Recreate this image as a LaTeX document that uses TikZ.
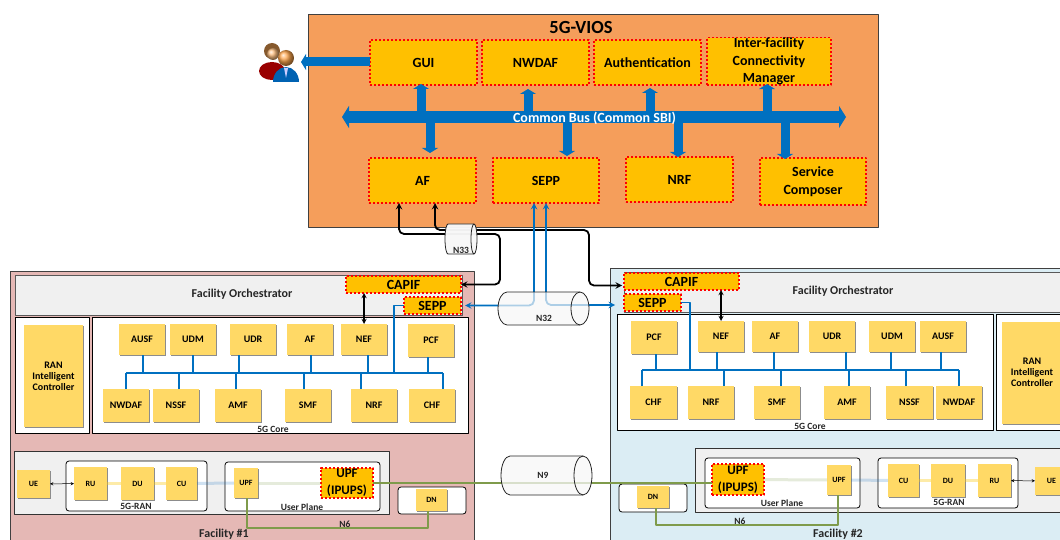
\documentclass[tikz,border=0pt]{standalone}
\usepackage{fontspec}
\setmainfont{Carlito}
\usetikzlibrary{arrows.meta,shadows}
\definecolor{viosbg}{HTML}{F59E5B}
\definecolor{fnbox}{HTML}{FFC000}
\definecolor{nfbox}{HTML}{FFD966}
\definecolor{sbiblue}{HTML}{0070C0}
\definecolor{linkgreen}{HTML}{7F9B4B}
\definecolor{facone}{HTML}{E5B8B5}
\definecolor{factwo}{HTML}{DBEDF4}
\begin{document}
\begin{tikzpicture}[x=1pt,y=-1pt,>=stealth,line join=round,
	span/.style args={#1,#2,#3,#4}{at={({(#1+#3)/2},{(#2+#4)/2})},minimum width={(#3-#1)*1pt},minimum height={(#4-#2)*1pt},inner sep=0pt,outer sep=0pt,align=center},
	panel/.style={draw=black!75,line width=0.9pt},
	whitebox/.style={draw=black,fill=white,line width=0.8pt},
	roundbox/.style={whitebox,rounded corners=3pt},
	fnnode/.style={fill=fnbox,draw=red,line width=1.2pt,dash pattern=on 2.2pt off 1.8pt,text=black,font=\fontsize{14}{17.5}\selectfont\bfseries},
	upfnode/.style={fnnode,font=\fontsize{13}{17}\selectfont\bfseries},
	nfnode/.style={fill=nfbox,drop shadow={shadow xshift=1pt,shadow yshift=-1pt,fill=black!45,opacity=1},font=\fontsize{10}{11}\selectfont\bfseries},
	smallnf/.style={nfnode,font=\fontsize{8}{9}\selectfont\bfseries},
	lbl/.style={inner sep=0pt,font=\fontsize{9.5}{11}\selectfont\bfseries,text=black!85},
	orchlbl/.style={inner sep=0pt,font=\fontsize{12}{14}\selectfont\bfseries,text=black!85},
	sbi/.style={draw=sbiblue,line width=1.8pt},
	blacklink/.style={draw=black,line width=1.8pt,rounded corners=5pt},
	bluelink/.style={sbi,rounded corners=5pt},
	n6/.style={draw=linkgreen,line width=1.8pt},
	busarrow/.style={draw=sbiblue,line width=9pt,-{Triangle[length=5pt,width=16pt]}}]
	\useasboundingbox (0,0) rectangle (1060,540);
	\clip (0,0) rectangle (1060,540);
	% 5G-VIOS
	\node[panel,fill=viosbg,span={308,14,878,227}] (vios) {};
	\node[inner sep=0pt,font=\fontsize{18.5}{20}\selectfont\bfseries] (viostitle) at (581,27) {5G-VIOS};
	\foreach \nm/\xa/\ya/\xb/\yb/\txt in {GUI/370/40/477/85/GUI,NWDAF/482/40/589/85/NWDAF,Auth/594/40/701/85/Authentication,
		Inter/707/38/831/85/{Inter-facility\\Connectivity\\Manager},AF/369/158/476/203/AF,SEPP/493/158/599/203/SEPP,
		NRF/626/157/733/202/NRF,Comp/760/158/866/205/{Service\\Composer}}
		\node[fnnode,span={\xa,\ya,\xb,\yb}] (v\nm) {\txt};
	\coordinate (busL) at (342,117);
	\coordinate (busR) at (846,117);
	% up and down from the bus
	\foreach \nm/\dx/\sh in {GUI/-2.5/-1,NWDAF/-7.5/4,Auth/2.5/3,Inter/-2/-1}
		\draw[busarrow,shorten >=\sh pt] ([xshift=\dx pt]v\nm.south |- busL) -- ([xshift=\dx pt]v\nm.south);
	\foreach \nm/\dx/\sh in {AF/7.5/5,SEPP/21/2,NRF/-1.5/0,Comp/-28/-1}
		\draw[busarrow,shorten >=\sh pt] ([xshift=\dx pt]v\nm.north |- busL) -- ([xshift=\dx pt]v\nm.north);
	\draw[draw=sbiblue,line width=12pt,{Triangle[length=7pt,width=22pt]}-{Triangle[length=7pt,width=22pt]}] (busL) -- (busR);
	\node[inner sep=0pt,text=white,font=\fontsize{14}{16}\selectfont\bfseries] (buslbl) at (594.5,118) {Common Bus (Common SBI)};
	% users
	\coordinate (users) at (301,62);
	\draw[busarrow] (vGUI.west |- users) -- (users);
	\fill[brown!70!black] (272,51) circle (8);
	\fill[red!60!black] (272,71) ellipse [x radius=13pt,y radius=9pt];
	\shade[ball color=orange!50] (273,54) circle (6);
	\fill[blue!45!cyan!70!black] (299,82) -- (273,82) arc[start angle=180,end angle=0,x radius=13pt,y radius=15pt] -- cycle;
	\fill[white!80!blue] (284,68) -- (288,68) -- (286,78) -- cycle;
	\shade[ball color=orange!70] (286,58) circle (8);
	% facility 1
	\node[panel,fill=facone,span={10,271,474,560}] (lfac) {};
	\node[panel,draw=black!65,fill=black!6,span={15,275,462,315}] (lorch) {};
	\node[orchlbl] (lorchlbl) at (242,294) {Facility Orchestrator};
	\node[whitebox,span={15,317,89,433}] (lricbox) {};
	\node[whitebox,span={92,317,468,433}] (lcore) {};
	\node[nfnode,span={24,325,83,427}] (lric) {RAN\\Intelligent\\Controller};
	\coordinate (lbusL) at (126,373);
	\coordinate (lbusR) at (443,373);
	\draw[sbi] (lbusL) -- (lbusR);
	\foreach \nm/\xa/\xb/\yb/\xv in {AUSF/119/165/355/143,UDM/170/216/355/193,UDR/230/276/355/239,AF/287/333/355/311,NEF/341/387/355/368,PCF/408/454/357/428}{
		\node[nfnode,span={\xa,324,\xb,\yb}] (l\nm) {\nm};
		\coordinate (t) at (\xv,373);
		\draw[sbi] (l\nm.south -| t) -- (t);
	}
	\foreach \nm/\xa/\xb/\xv in {NWDAF/103/149/126,NSSF/153/199/179,AMF/215/261/236,SMF/285/331/304,NRF/351/397/361,CHF/409/455/443}{
		\node[nfnode,span={\xa,389,\xb,422}] (l\nm) {\nm};
		\coordinate (t) at (\xv,373);
		\draw[sbi] (l\nm.north -| t) -- (t);
	}
	\node[lbl] (lcorelbl) at (273,429) {5G Core};
	\node[fnnode,span={346,276,461,293}] (lCAPIF) {CAPIF};
	\node[fnnode,span={404,297,461,314}] (lSEPP) {SEPP};
	\coordinate (lsbi) at (394,373);
	\draw[sbi] (lSEPP.west) -| (lsbi);
	\draw[black,line width=1.3pt,<->] (lNEF.north) -- (lCAPIF.south -| lNEF.north);
	% facility 1 lower part
	\node[draw=black!80,line width=0.8pt,fill=black!6,span={14,451,389,514}] (ledge) {};
	\node[roundbox,span={66,461,207,511}] (lran) {};
	\node[roundbox,span={225,462,380,511}] (lup) {};
	\node[roundbox,span={398,487,466,514}] (ldnbox) {};
	\foreach \nm/\xa/\ya/\xb/\yb in {UE/17/470/50/498,RU/74/467/107/500,DU/121/467/154/500,CU/166/467/197/500,UPF/234/468/258/498,DN/416/489/447/511}
		\node[smallnf,span={\xa,\ya,\xb,\yb}] (l\nm x) {\nm};
	\node[upfnode,span={321,468,373,498}] (lIPUPS) {UPF\\(IPUPS)};
	\draw[yellow!60!orange,line width=3pt,opacity=0.35] (lRUx) -- (lDUx) -- (lCUx);
	\draw[cyan!50!blue,line width=3pt,opacity=0.2] (lCUx) -- (lUPFx);
	\draw[linkgreen,line width=3pt,opacity=0.2] (lUPFx) -- (lIPUPS);
	\draw[black,line width=0.5pt,<->] (lUEx) -- (lRUx);
	\coordinate (ln6) at (345,528);
	\draw[n6] (lUPFx.south -| 247,0) |- (ln6) -| (428,511);
	\node[lbl] (ln6lbl) at (345,524) {N6};
	\node[lbl] (lranlbl) at (136,506) {5G-RAN};
	\node[lbl] (luplbl) at (302,507) {User Plane};
	\node[orchlbl] (lfaclbl) at (224,534) {Facility \#1};
	% facility 2
	\node[panel,fill=factwo,span={610,268,1075,560}] (rfac) {};
	\node[panel,draw=black!65,fill=black!6,span={624,272,1075,312}] (rorch) {};
	\node[orchlbl] (rorchlbl) at (843,291) {Facility Orchestrator};
	\node[whitebox,span={617,314,993,430}] (rcore) {};
	\node[whitebox,span={996,314,1075,430}] (rricbox) {};
	\node[nfnode,span={1002,322,1075,424}] (rric) {};
	\node[inner sep=0pt,align=center,font=\fontsize{10}{11}\selectfont\bfseries] (rrictxt) at (1032,372) {RAN\\Intelligent\\Controller};
	\coordinate (rbusL) at (642,370);
	\coordinate (rbusR) at (959,370);
	\draw[sbi] (rbusL) -- (rbusR);
	\foreach \nm/\xa/\xb/\yb/\xv in {PCF/631/677/354/656,NEF/698/744/352/717,AF/752/798/352/774,UDR/809/855/352/846,UDM/869/915/352/891,AUSF/920/966/352/941}{
		\node[nfnode,span={\xa,321,\xb,\yb}] (r\nm) {\nm};
		\coordinate (t) at (\xv,370);
		\draw[sbi] (r\nm.south -| t) -- (t);
	}
	\foreach \nm/\xa/\xb/\xv in {CHF/630/677/642,NRF/688/734/724,SMF/754/800/781,AMF/824/870/849,NSSF/886/933/906,NWDAF/936/982/959}{
		\node[nfnode,span={\xa,386,\xb,419}] (r\nm) {\nm};
		\coordinate (t) at (\xv,370);
		\draw[sbi] (r\nm.north -| t) -- (t);
	}
	\node[lbl] (rcorelbl) at (810,426) {5G Core};
	\node[fnnode,span={624,273,739,290}] (rCAPIF) {CAPIF};
	\node[fnnode,span={624,294,681,311}] (rSEPP) {SEPP};
	\coordinate (rsbi) at (690,370);
	\draw[sbi] (rSEPP.east) -| (rsbi);
	\draw[black,line width=1.3pt,<->] (rNEF.north) -- (rCAPIF.south -| rNEF.north);
	% facility 2 lower part
	\node[draw=black!80,line width=0.8pt,fill=black!6,span={695,448,1075,512}] (redge) {};
	\node[roundbox,span={705,458,860,508}] (rup) {};
	\node[roundbox,span={878,458,1018,508}] (rran) {};
	\node[roundbox,span={619,484,687,512}] (rdnbox) {};
	\foreach \nm/\xa/\ya/\xb/\yb in {UE/1035/467/1068/495,RU/978/464/1011/497,DU/931/464/965/497,CU/888/464/919/497,UPF/827/465/851/495,DN/637/486/669/508}
		\node[smallnf,span={\xa,\ya,\xb,\yb}] (r\nm x) {\nm};
	\node[upfnode,span={712,464,764,495}] (rIPUPS) {UPF\\(IPUPS)};
	\draw[yellow!60!orange,line width=3pt,opacity=0.35] (rRUx) -- (rDUx) -- (rCUx);
	\draw[cyan!50!blue,line width=3pt,opacity=0.2] (rCUx) -- (rUPFx);
	\draw[linkgreen,line width=3pt,opacity=0.2] (rUPFx) -- (rIPUPS);
	\draw[black,line width=0.5pt,<->] (rUEx) -- (rRUx);
	\coordinate (rn6) at (740,525);
	\draw[n6] (rDNx.south -| 656,0) |- (rn6) -| (838,495);
	\node[lbl] (rn6lbl) at (740,521) {N6};
	\node[lbl] (ruplbl) at (782,503) {User Plane};
	\node[lbl] (rranlbl) at (949,502) {5G-RAN};
	\node[orchlbl] (rfaclbl) at (838,534) {Facility \#2};
	% links between the boxes
	\coordinate (afone) at (500,234);
	\coordinate (aftwo) at (589,230);
	\draw[blacklink,<->] ([xshift=-23.5pt]vAF.south) |- (afone) |- (lCAPIF.east);
	\draw[blacklink,<->,shorten >=2pt] ([xshift=12.5pt]vAF.south) |- (aftwo) |- ([yshift=-4pt]rCAPIF.west);
	\draw[bluelink,<->,shorten >=4pt] ([xshift=-12pt]vSEPP.south) |- (lSEPP.east);
	\draw[bluelink,<->,shorten >=9pt] (vSEPP.south) |- ([yshift=-2.5pt]rSEPP.west);
	\draw[n6] (lIPUPS.east) -- (lIPUPS.east -| rIPUPS.west);
	% pipes
	\foreach \nm/\xa/\ya/\xb/\yb/\cw/\op/\tx/\ty in {N33/445/224/477/254/3/0.97/461/250,N32/498/292/589/325/9/0.7/544/318,N9/501/456/592/495/9/0.75/543/475}{
		\pgfmathsetmacro\ph{(\yb-\ya)/2}
		\fill[black!3,opacity=\op] (\xa+\cw,\ya) arc[start angle=90,end angle=270,x radius=\cw pt,y radius=\ph pt] -- (\xb-\cw,\yb) arc[start angle=270,end angle=450,x radius=\cw pt,y radius=\ph pt] -- cycle;
		\draw[black!85,line width=0.8pt] (\xa+\cw,\ya) arc[start angle=90,end angle=270,x radius=\cw pt,y radius=\ph pt] -- (\xb-\cw,\yb) arc[start angle=270,end angle=450,x radius=\cw pt,y radius=\ph pt] -- cycle;
		\draw[black!85,line width=0.8pt] (\xb-\cw,\ya) arc[start angle=90,end angle=270,x radius=\cw pt,y radius=\ph pt];
		\node[lbl] (\nm lbl) at (\tx,\ty) {\nm};
	}
\end{tikzpicture}
\end{document}
